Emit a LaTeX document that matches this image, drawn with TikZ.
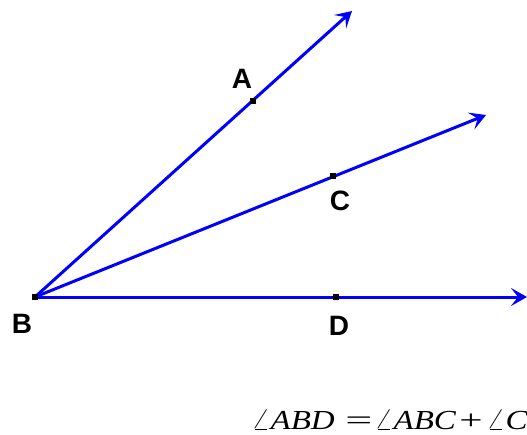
\documentclass[tikz,border=0pt]{standalone}
\usepackage{fontspec}
\newfontfamily\labfont{Liberation Sans}
\newfontfamily\eqfont{Liberation Serif}
\usetikzlibrary{arrows.meta}
\newcommand\angsym{{\fontsize{28}{28}\selectfont$\angle$}}
\begin{document}
\begin{tikzpicture}[x=1pt,y=-1pt,
  ray/.style={draw={rgb,255:red,0;green,0;blue,255}, line width=3pt,
    -{Stealth[length=16pt,width=18pt,inset=7pt]}},
  pt/.style={fill=black, inner sep=0pt, minimum size=6.5pt, draw=none, rectangle},
  lab/.style={font=\fontsize{28}{28}\selectfont\labfont\bfseries, inner sep=0pt, text=black},
  eqpart/.style={anchor=base west, inner sep=0pt, xscale=1.2, font=\fontsize{27.5}{28}\selectfont\eqfont}]
\useasboundingbox (0,0) rectangle (527,434);
\clip (0,0) rectangle (527,434);
\coordinate (B) at (35,297);
\coordinate (A) at (253,101);
\coordinate (C) at (333,176);
\coordinate (D) at (336,297);
\coordinate (Aend) at (352,11);
\coordinate (Cend) at (486,115);
\coordinate (Dend) at (527,297);
\draw[ray] (B) -- (Aend);
\draw[ray] (B) -- (Cend);
\draw[ray] (B) -- (Dend);
\node[pt] (pA) at (A) {};
\node[pt] (pB) at (B) {};
\node[pt] (pC) at (C) {};
\node[pt] (pD) at (D) {};
\node[lab] (lA) at (242,79) {A};
\node[lab] (lB) at (22,324) {B};
\node[lab] (lC) at (340,201) {C};
\node[lab] (lD) at (339,326) {D};
\node[eqpart] (e1) at (251,429) {\angsym\textit{ABD}};
\node[eqpart, xscale=1.45] (e2) at (345,429) {=};
\node[eqpart] (e3) at (374,429) {\angsym\textit{ABC}};
\node[eqpart, xscale=1.25] (e4) at (459,429) {+};
\node[eqpart] (e5) at (486,429) {\angsym\textit{C}};
\end{tikzpicture}
\end{document}
